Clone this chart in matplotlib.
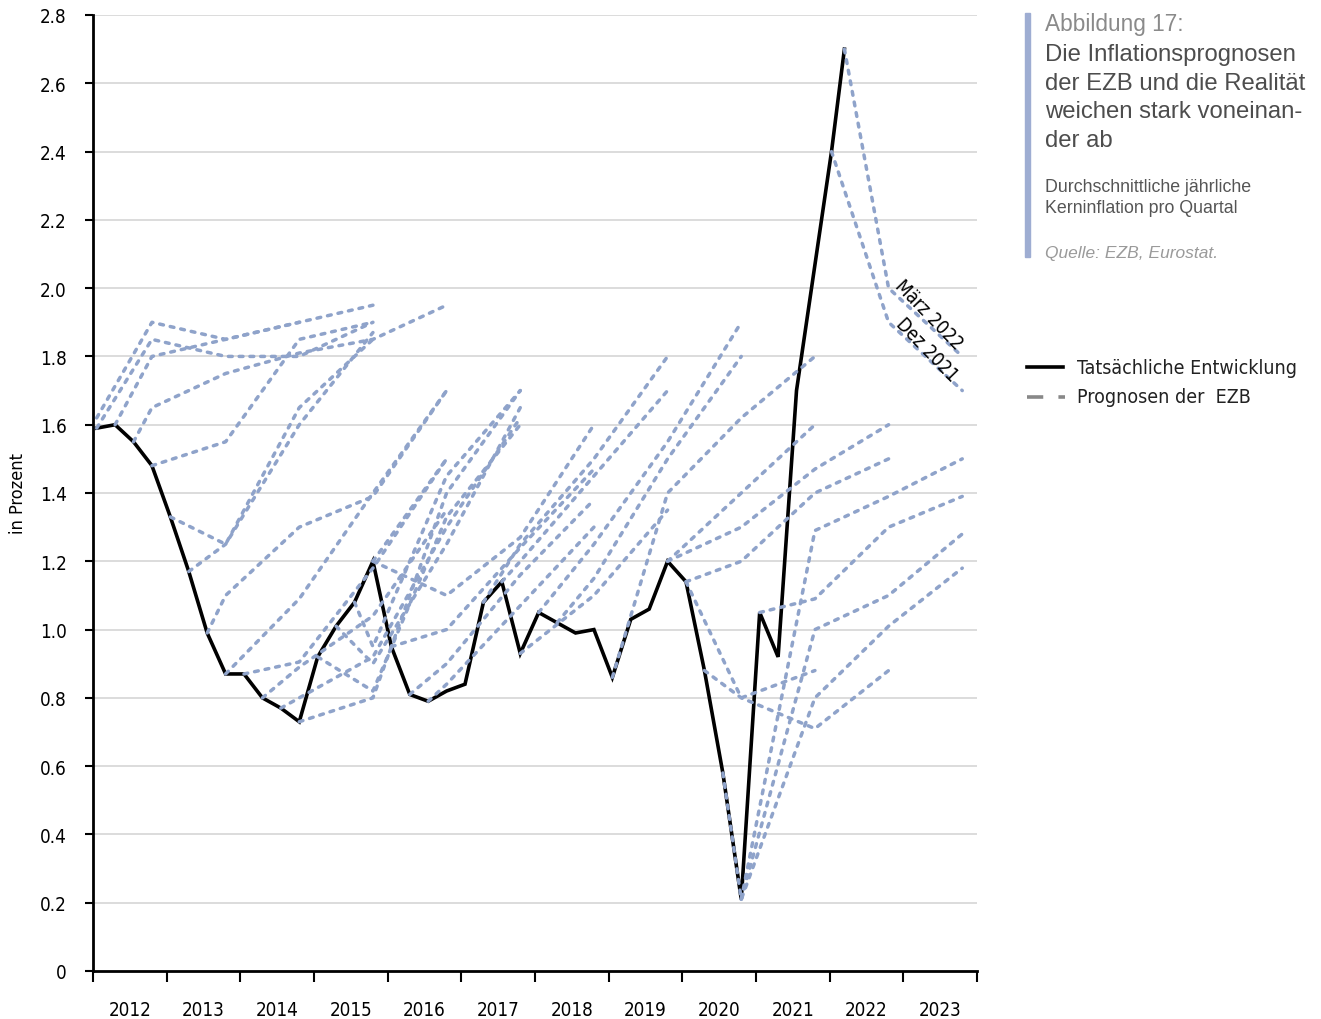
import matplotlib
matplotlib.use('Agg')
import matplotlib.pyplot as plt
from matplotlib.lines import Line2D
from matplotlib.patches import Rectangle

# x positions are quarter indices: 0 = Q1 2012, 47 = Q4 2023
years = list(range(2012, 2024))

actual_q = list(range(39)) + [39.9, 40.6]
actual_val = [1.59, 1.60, 1.55, 1.48, 1.33, 1.17, 0.99, 0.87,
              0.87, 0.80, 0.77, 0.73, 0.92, 1.01, 1.08, 1.20,
              0.95, 0.81, 0.79, 0.82, 0.84, 1.08, 1.14, 0.93,
              1.05, 1.02, 0.99, 1.00, 0.86, 1.03, 1.06, 1.20,
              1.14, 0.88, 0.58, 0.21, 1.05, 0.92, 1.70, 2.40, 2.70]

# ECB projections, one list of (quarter, value) per forecast round
fc_2012 = [
    [(0, 1.62), (3, 1.90), (7, 1.85), (11, 1.90), (15, 1.95)],
    [(0, 1.59), (3, 1.85), (7, 1.80), (11, 1.80), (15, 1.90)],
    [(1, 1.60), (3, 1.80), (7, 1.85), (11, 1.90)],
    [(2, 1.55), (3, 1.65), (7, 1.75), (11, 1.81), (15, 1.85), (19, 1.95)],
]
fc_2013 = [
    [(3, 1.48), (7, 1.55), (11, 1.85), (15, 1.90)],
    [(4, 1.33), (7, 1.25), (11, 1.65), (15, 1.85)],
    [(5, 1.17), (7, 1.25), (11, 1.60), (15, 1.87)],
    [(6, 0.99), (7, 1.10), (11, 1.30), (15, 1.39), (19, 1.70)],
]
fc_2014 = [
    [(7, 0.87), (11, 1.09), (15, 1.40), (19, 1.70)],
    [(8, 0.87), (11, 0.905), (15, 1.18), (19, 1.50)],
    [(9, 0.80), (11, 0.89), (15, 1.04), (19, 1.35)],
    [(10, 0.77), (11, 0.80), (15, 0.92), (19, 1.30), (23, 1.62)],
    [(11, 0.73), (15, 0.80), (19, 1.40), (23, 1.70)],
]
fc_2015 = [
    [(12, 0.92), (15, 0.82), (19, 1.33), (23, 1.60)],
    [(13, 1.01), (15, 0.90), (19, 1.25), (23, 1.65)],
    [(14, 1.08), (15, 0.95), (19, 1.45), (23, 1.70)],
    [(15, 1.20), (19, 1.50)],
    [(15, 1.20), (19, 1.10), (23, 1.27), (27, 1.60)],
]
fc_2016 = [
    [(16, 0.95), (19, 1.00), (23, 1.24), (27, 1.47)],
    [(17, 0.81), (19, 0.90), (23, 1.16), (27, 1.38)],
    [(18, 0.79), (19, 0.84), (23, 1.07), (27, 1.30)],
]
fc_2017 = [
    [(21, 1.08), (23, 1.25), (27, 1.50), (31, 1.80)],
    [(22, 1.14), (23, 1.20), (27, 1.45), (31, 1.70)],
    [(23, 0.93), (27, 1.10), (31, 1.35)],
]
fc_2018 = [
    [(24, 1.05), (27, 1.25), (31, 1.55), (35, 1.90)],
    [(25, 1.02), (27, 1.15), (31, 1.50), (35, 1.80)],
]
fc_2019 = [
    [(28, 0.86), (31, 1.40), (35, 1.62), (39, 1.80)],
    [(31, 1.20), (35, 1.40), (39, 1.60)],
    [(31, 1.20), (35, 1.30), (39, 1.47), (43, 1.60)],
]
fc_2020 = [
    [(32, 1.14), (35, 1.20), (39, 1.40), (43, 1.50)],
    [(32, 1.14), (35, 0.80), (39, 0.88)],
    [(33, 0.88), (35, 0.80), (39, 0.71), (43, 0.88)],
    [(34, 0.58), (35, 0.21), (39, 0.80), (43, 1.01), (47, 1.18)],
]
fc_2021 = [
    [(35, 0.21), (39, 1.00), (43, 1.10), (47, 1.28)],
    [(35, 0.21), (39, 1.29), (43, 1.39), (47, 1.50)],
    [(36, 1.05), (39, 1.09), (43, 1.30), (47, 1.39)],
    [(39.9, 2.40), (43, 1.90), (47, 1.70)],
]
fc_2022 = [
    [(40.6, 2.70), (43, 2.00), (47, 1.80)],
]

plt.rcParams['font.family'] = ['Liberation Sans', 'DejaVu Sans']
narrow = dict(fontfamily='DejaVu Sans', fontstretch='condensed')

fig = plt.figure(figsize=(13.21, 10.20), dpi=100)
ax = fig.add_axes([93 / 1321, 48 / 1020, 884 / 1321, 956 / 1020])

fc_color = '#8fa3ca'
ax.plot(actual_q, actual_val, color='black', lw=2.6, zorder=3,
        solid_joinstyle='miter')
for group in [fc_2012, fc_2013, fc_2014, fc_2015, fc_2016, fc_2017,
              fc_2018, fc_2019, fc_2020, fc_2021, fc_2022]:
    for fc in group:
        xs = [p[0] for p in fc]
        ys = [p[1] for p in fc]
        ax.plot(xs, ys, color=fc_color, lw=2.5, ls=(0, (1.1, 2.0)),
                dash_capstyle='round', zorder=4)

ax.set_xlim(-0.2, 47.8)
ax.set_ylim(0, 2.8)

yt = [i * 0.2 for i in range(15)]
ax.set_yticks(yt)
ax.set_yticklabels(['0'] + ['%.1f' % v for v in yt[1:]], fontsize=13.5, **narrow)
ax.tick_params(axis='y', length=6, width=1.5, pad=13, color='black')
for v in yt[1:]:
    ax.axhline(v, color='#d6d6d6', lw=1.2, zorder=1)

ax.set_xticks([-0.2 + 4 * k for k in range(13)])
ax.set_xticklabels([])
ax.set_xticks([1.8 + 4 * k for k in range(12)], minor=True)
ax.set_xticklabels([str(y) for y in years], minor=True, fontsize=13.5, **narrow)
ax.tick_params(axis='x', which='major', length=8, width=1.5, color='black')
ax.tick_params(axis='x', which='minor', length=0, pad=21)

for s in ['top', 'right']:
    ax.spines[s].set_visible(False)
for s in ['left', 'bottom']:
    ax.spines[s].set_linewidth(2)
ax.set_ylabel('in Prozent', fontsize=13, labelpad=9, **narrow)

ax.text(45.2, 1.925, 'März 2022', rotation=-46, ha='center', va='center',
        rotation_mode='anchor', fontsize=13.5, zorder=5, **narrow)
ax.text(45.1, 1.822, 'Dez 2021', rotation=-46, ha='center', va='center',
        rotation_mode='anchor', fontsize=13.5, zorder=5, **narrow)

# side panel
W, H = 1321.0, 1020.0
fig.patches.append(Rectangle((1025 / W, 1 - 258 / H), 5 / W, 244 / H,
                             transform=fig.transFigure, color='#9eadd2'))
fig.text(1045 / W, 1 - 31 / H, 'Abbildung 17:', fontsize=16.3,
         color='#8a8a8a', va='baseline')
title_lines = ['Die Inflationsprognosen', 'der EZB und die Realität',
               'weichen stark voneinan-', 'der ab']
for k, t in enumerate(title_lines):
    fig.text(1045 / W, 1 - (61 + 28.6 * k) / H, t, fontsize=17.2,
             color='#4d4d4d', va='baseline')
fig.text(1045 / W, 1 - 191.5 / H, 'Durchschnittliche jährliche',
         fontsize=12.8, color='#555555', va='baseline')
fig.text(1045 / W, 1 - 213.3 / H, 'Kerninflation pro Quartal',
         fontsize=12.8, color='#555555', va='baseline')
fig.text(1045 / W, 1 - 258 / H, 'Quelle: EZB, Eurostat.', fontsize=12.5,
         color='#9a9a9a', style='italic', va='baseline')

# legend
fig.add_artist(Line2D([1027 / W, 1063 / W], [1 - 368 / H, 1 - 368 / H],
                      color='black', lw=2.6, transform=fig.transFigure))
fig.add_artist(Line2D([1027 / W, 1065 / W], [1 - 398 / H, 1 - 398 / H],
                      color='#888888', lw=2.6, ls=(0, (4.5, 4.2)),
                      transform=fig.transFigure))
fig.text(1077 / W, 1 - 368 / H, 'Tatsächliche Entwicklung', fontsize=14,
         color='#222222', va='center', **narrow)
fig.text(1077 / W, 1 - 398 / H, 'Prognosen der  EZB', fontsize=14,
         color='#222222', va='center', **narrow)

plt.savefig('out.png', dpi=100)
